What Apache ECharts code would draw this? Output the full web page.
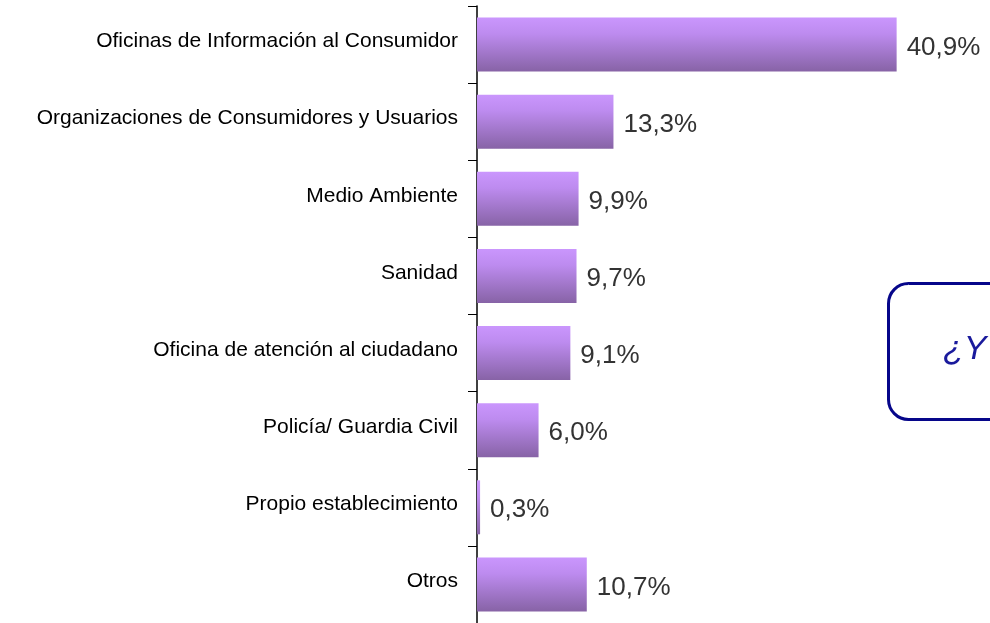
<!DOCTYPE html>
<html>
<head>
<meta charset="utf-8">
<script src="https://cdn.jsdelivr.net/npm/echarts@6/dist/echarts.min.js"></script>
<style>
  html, body { margin: 0; padding: 0; background: #fff; }
  #main { width: 990px; height: 623px; }
</style>
</head>
<body>
<div id="main"></div>
<script>
// categories top to bottom
const categories = [
  "Oficinas de Información al Consumidor",
  "Organizaciones de Consumidores y Usuarios",
  "Medio Ambiente",
  "Sanidad",
  "Oficina de atención al ciudadano",
  "Policía/ Guardia Civil",
  "Propio establecimiento",
  "Otros",
];
const values = [40.9, 13.3, 9.9, 9.7, 9.1, 6.0, 0.3, 10.7];
const boxText = "¿Y";

let chart = echarts.init(document.getElementById("main"));
let option = {
  animation: false,
  grid: {
    left: 477,
    top: 6,
    width: 515.5,
    height: 620.6,
  },
  xAxis: {
    type: "value",
    min: 0,
    max: 50,
    show: false,
  },
  yAxis: {
    type: "category",
    inverse: true,
    data: categories,
    axisLine: { show: true, lineStyle: { color: "#000", width: 1.5 } },
    axisTick: { show: true, length: 9, lineStyle: { color: "#000" } },
    axisLabel: {
      margin: 19,
      color: "#000",
      fontSize: 21,
      fontFamily: "Liberation Sans",
      verticalAlign: "bottom",
      lineHeight: 6,
    },
  },
  series: [
    {
      type: "bar",
      data: values,
      barWidth: 54,
      itemStyle: {
        color: new echarts.graphic.LinearGradient(0, 0, 0, 1, [
          { offset: 0, color: "#ca96fd" },
          { offset: 0.3, color: "#bd8bef" },
          { offset: 1, color: "#8763a6" },
        ]),
      },
      label: {
        show: true,
        position: "right",
        distance: 10,
        offset: [0, 3],
        color: "#333",
        fontSize: 26,
        fontFamily: "Liberation Sans",
        formatter: function (p) {
          return p.value.toFixed(1).replace(".", ",") + "%";
        },
      },
    },
  ],
  graphic: [
    {
      type: "rect",
      left: 887,
      top: 282,
      shape: { width: 140, height: 136, r: 20 },
      style: { fill: "#fff", stroke: "#06068a", lineWidth: 3 },
    },
    {
      type: "text",
      left: 943,
      top: 333,
      style: {
        text: boxText,
        fill: "#1a1a9c",
        font: "italic 34px Liberation Sans",
      },
    },
  ],
};
chart.setOption(option);
</script>
</body>
</html>
